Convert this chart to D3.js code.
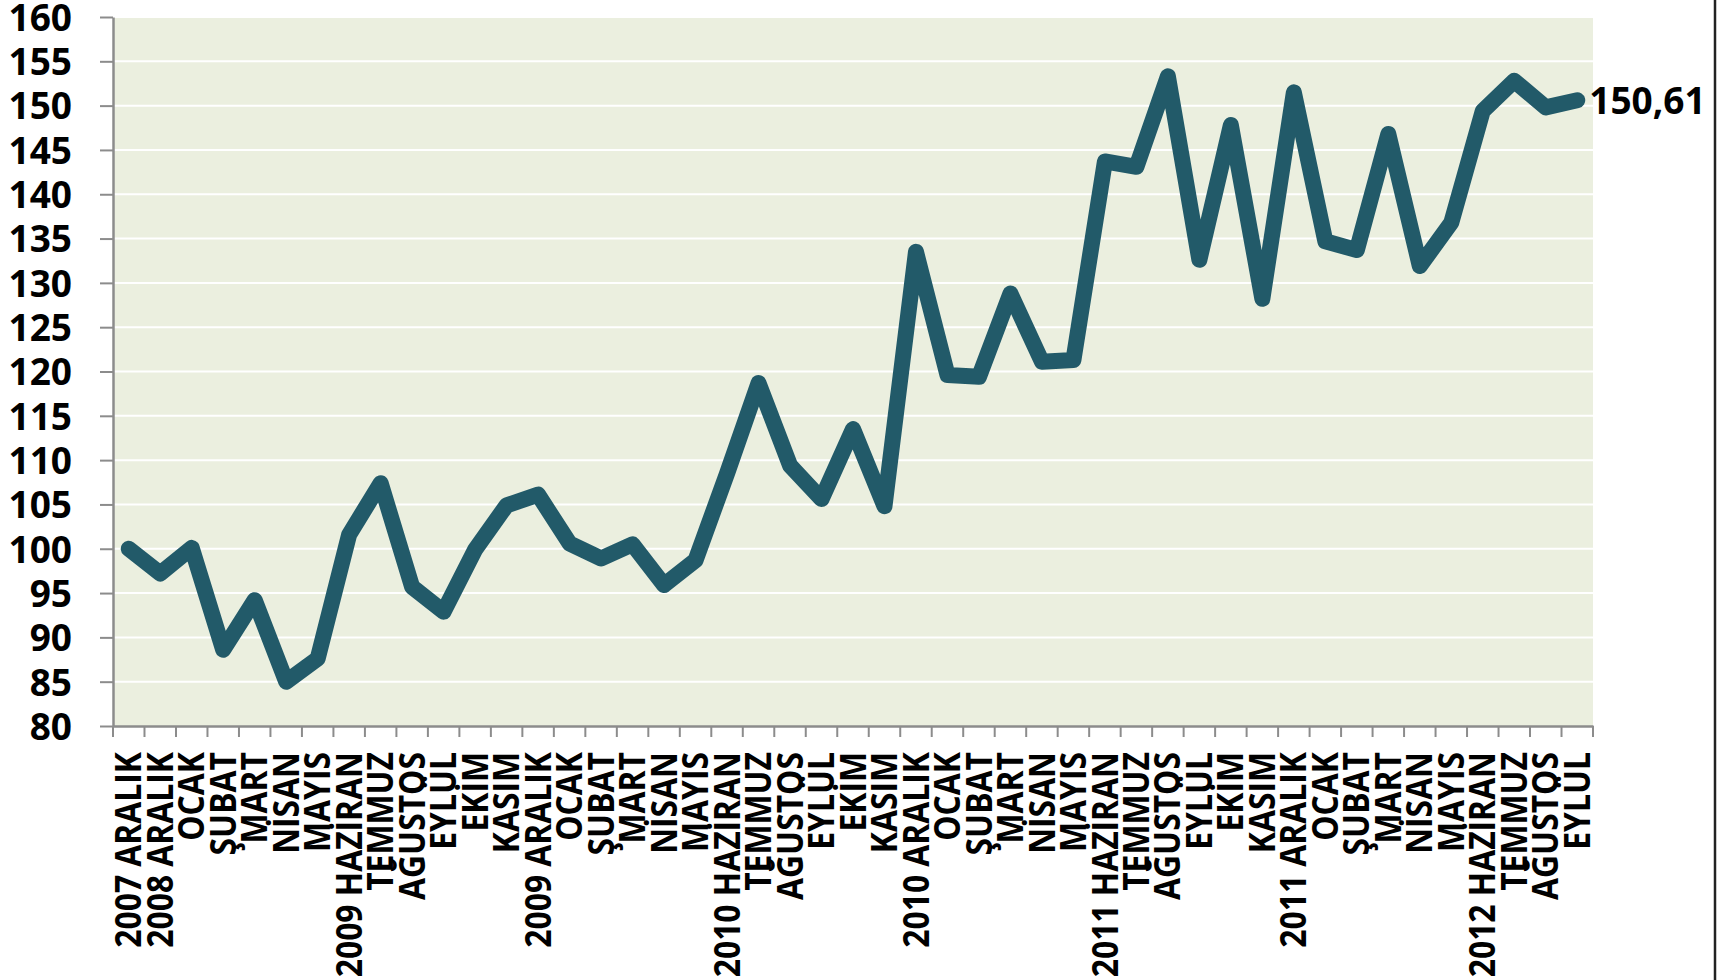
<!DOCTYPE html>
<html>
<head>
<meta charset="utf-8">
<script src="https://cdn.jsdelivr.net/npm/d3@7"></script>
<style>
  html, body { margin: 0; padding: 0; background: #ffffff; }
  svg { display: block; }
  text { font-family: "Open Sans", "Noto Sans", sans-serif; font-weight: 700; fill: #000; }
</style>
</head>
<body>
<svg id="chart" width="1730" height="980"></svg>
<script>
const categories = [
  "2007 ARALIK", "2008 ARALIK", "OCAK", "ŞUBAT", "MART", "NİSAN", "MAYIS",
  "2009 HAZİRAN", "TEMMUZ", "AĞUSTOS", "EYLÜL", "EKİM", "KASIM",
  "2009 ARALIK", "OCAK", "ŞUBAT", "MART", "NİSAN", "MAYIS",
  "2010 HAZİRAN", "TEMMUZ", "AĞUSTOS", "EYLÜL", "EKİM", "KASIM",
  "2010 ARALIK", "OCAK", "ŞUBAT", "MART", "NİSAN", "MAYIS",
  "2011 HAZİRAN", "TEMMUZ", "AĞUSTOS", "EYLÜL", "EKİM", "KASIM",
  "2011 ARALIK", "OCAK", "ŞUBAT", "MART", "NİSAN", "MAYIS",
  "2012 HAZİRAN", "TEMMUZ", "AĞUSTOS", "EYLÜL"
];
const values = [
  100.0, 97.2, 100.1, 88.6, 94.2, 85.0, 87.6,
  101.6, 107.4, 95.7, 92.9, 99.9, 104.9,
  106.1, 100.6, 98.9, 100.5, 95.9, 98.7,
  108.5, 118.7, 109.4, 105.6, 113.5, 104.8,
  133.5, 119.6, 119.4, 128.8, 121.1, 121.3,
  143.7, 143.1, 153.3, 132.6, 147.8, 128.2,
  151.5, 134.7, 133.7, 146.8, 131.9, 136.8,
  149.4, 152.8, 149.8, 150.61
];
const yTicks = [80, 85, 90, 95, 100, 105, 110, 115, 120, 125, 130, 135, 140, 145, 150, 155, 160];
const endLabel = "150,61";

const W = 1730, H = 980;
const margin = { left: 113, top: 17, right: 137, bottom: 254 };
const svg = d3.select("#chart");

const x = d3.scaleBand()
  .domain(d3.range(categories.length))
  .range([margin.left, W - margin.right])
  .padding(0);
const y = d3.scaleLinear()
  .domain([80, 160])
  .range([H - margin.bottom, margin.top]);
const bw = x.bandwidth();

// plot background
svg.append("rect")
  .attr("x", margin.left).attr("y", margin.top)
  .attr("width", W - margin.left - margin.right)
  .attr("height", H - margin.top - margin.bottom)
  .attr("fill", "#EBEFDF");

// gridlines
svg.append("g").selectAll("line")
  .data(yTicks.filter(v => v > 80))
  .join("line")
  .attr("x1", margin.left).attr("x2", W - margin.right)
  .attr("y1", d => y(d)).attr("y2", d => y(d))
  .attr("stroke", "#ffffff").attr("stroke-width", 2);

// y axis
const yAxis = svg.append("g")
  .attr("transform", `translate(${margin.left},0)`)
  .call(d3.axisLeft(y).tickValues(yTicks).tickSize(13).tickPadding(28).tickSizeOuter(0));
yAxis.select(".domain").attr("stroke", "#8c8c8c").attr("stroke-width", 2.5);
yAxis.selectAll(".tick line").attr("stroke", "#8c8c8c").attr("stroke-width", 2);
yAxis.selectAll(".tick text")
  .attr("font-size", 37).attr("font-family", "'Open Sans', sans-serif")
  .attr("font-weight", 700).attr("fill", "#000").attr("dy", "0.36em");

// x axis
const xAxis = svg.append("g")
  .attr("transform", `translate(0,${H - margin.bottom})`)
  .call(d3.axisBottom(x).tickSize(0).tickSizeOuter(0).tickFormat(i => categories[i]));
xAxis.select(".domain").attr("stroke", "#8c8c8c").attr("stroke-width", 2.5);
xAxis.selectAll(".tick text")
  .attr("font-size", 35).attr("font-family", "'Open Sans', sans-serif")
  .attr("font-weight", 700).attr("fill", "#000")
  .attr("text-anchor", "end")
  .attr("x", 0).attr("y", 0).attr("dy", "0.36em")
  .attr("transform", "translate(0,26) rotate(-90) scale(0.91,1)");
// boundary tick marks (between categories)
xAxis.append("g").selectAll("line")
  .data(d3.range(categories.length + 1))
  .join("line")
  .attr("x1", i => x.range()[0] + i * x.step())
  .attr("x2", i => x.range()[0] + i * x.step())
  .attr("y1", 0).attr("y2", 11)
  .attr("stroke", "#8c8c8c").attr("stroke-width", 2);

// line
const line = d3.line()
  .x((d, i) => x(i) + bw / 2)
  .y(d => y(d));
svg.append("path")
  .datum(values)
  .attr("d", line)
  .attr("fill", "none")
  .attr("stroke", "#225A69")
  .attr("stroke-width", 16)
  .attr("stroke-linejoin", "round")
  .attr("stroke-linecap", "round");

// end label
const lastI = values.length - 1;
svg.append("text")
  .attr("x", x(lastI) + bw / 2 + 12)
  .attr("y", y(values[lastI]))
  .attr("dy", "0.36em")
  .attr("font-size", 37)
  .text(endLabel);

// right border line
svg.append("line")
  .attr("x1", 1715).attr("x2", 1715)
  .attr("y1", 0).attr("y2", H)
  .attr("stroke", "#222").attr("stroke-width", 2.5);
</script>
</body>
</html>
